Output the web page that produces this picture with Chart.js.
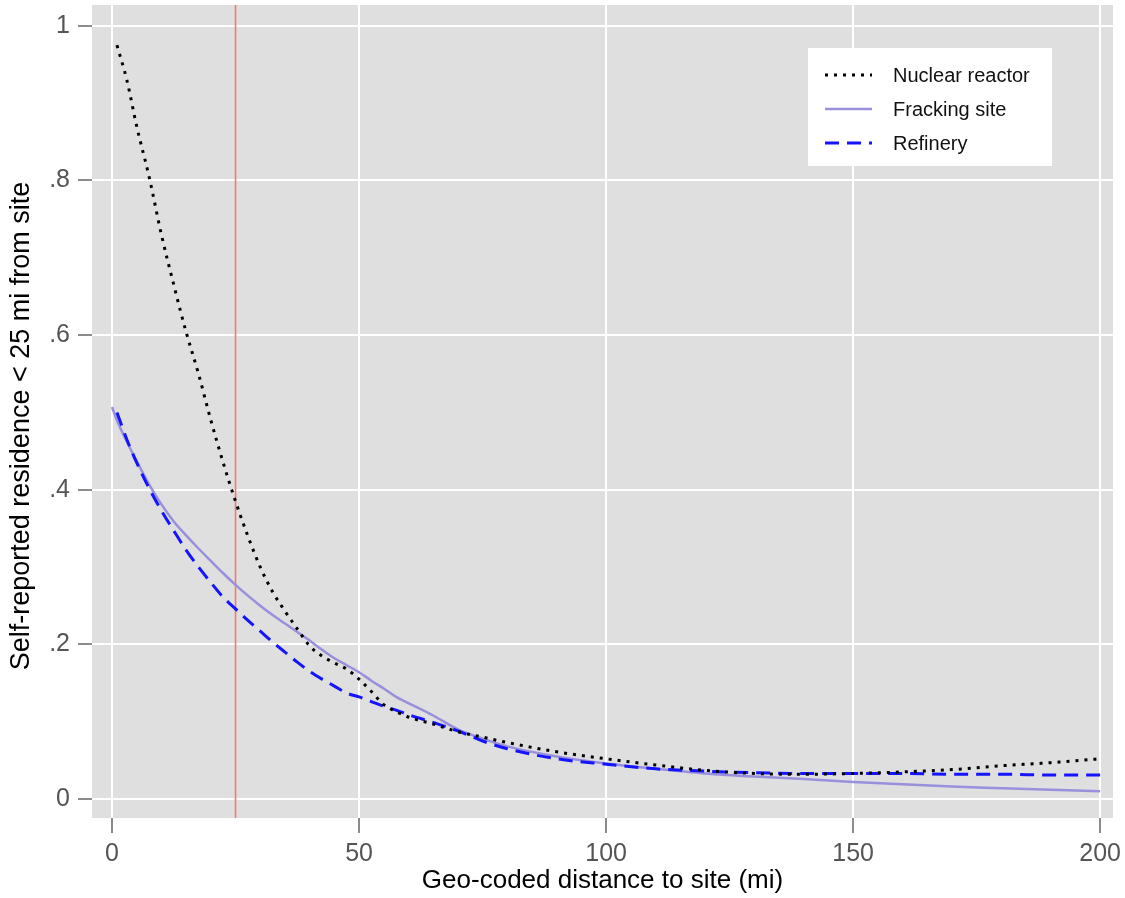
<!DOCTYPE html>
<html>
<head>
<meta charset="utf-8">
<script src="https://cdn.jsdelivr.net/npm/chart.js@4.4.1/dist/chart.umd.min.js"></script>
<style>
  html,body{margin:0;padding:0;background:#fff;}
  #wrap{width:1125px;height:898px;}
</style>
</head>
<body>
<div id="wrap"><canvas id="chart" width="1125" height="898"></canvas></div>
<script>
// distances (mi)
const distances = [0,1,3,5,7.5,10,12.5,15,17.5,20,22.5,25,27.5,30,32.5,35,37.5,40,42.5,45,47.5,50,52.5,55,57.5,60,65,70,75,80,90,100,110,120,130,140,150,160,170,180,190,200];

const nuclear = [null,0.975,0.93,0.87,0.805,0.73,0.665,0.604,0.55,0.49,0.435,0.385,0.34,0.3,0.268,0.243,0.22,0.198,0.185,0.176,0.168,0.155,0.139,0.122,0.113,0.106,0.097,0.087,0.08,0.073,0.061,0.052,0.044,0.037,0.033,0.032,0.033,0.035,0.038,0.043,0.047,0.052];
const fracking = [0.507,0.49,0.462,0.437,0.407,0.381,0.359,0.341,0.324,0.308,0.292,0.277,0.263,0.25,0.238,0.227,0.216,0.205,0.193,0.182,0.173,0.164,0.153,0.143,0.132,0.124,0.108,0.09,0.078,0.068,0.055,0.046,0.039,0.033,0.029,0.026,0.022,0.019,0.016,0.014,0.012,0.01];
const refinery = [null,0.5,0.465,0.435,0.402,0.373,0.347,0.322,0.3,0.28,0.261,0.246,0.231,0.217,0.203,0.19,0.177,0.165,0.155,0.146,0.137,0.132,0.126,0.12,0.115,0.109,0.099,0.088,0.075,0.065,0.052,0.045,0.039,0.036,0.034,0.033,0.033,0.033,0.032,0.032,0.031,0.031];

const seriesNames = ['Nuclear reactor','Fracking site','Refinery'];
const xTicks = [0,50,100,150,200];
const yTicks = [0,0.2,0.4,0.6,0.8,1];
const cutoff = 25;
const yTitle = 'Self-reported residence < 25 mi from site';

const pts = arr => distances.map((d,i)=>({x:d, y:arr[i]})).filter(p=>p.y!==null);

const FAM = '"Liberation Sans", Arial, sans-serif';
const tickFont = {family:FAM, size:25};

const bgPlugin = {
  id:'bg',
  beforeDraw(chart){
    const {ctx, chartArea:a} = chart;
    ctx.save();
    ctx.fillStyle = '#dfdfdf';
    ctx.fillRect(a.left, a.top, a.right-a.left, a.bottom-a.top);
    ctx.restore();
  },
  beforeDatasetsDraw(chart){
    const {ctx, chartArea:a, scales} = chart;
    const x = scales.x.getPixelForValue(cutoff);
    ctx.save();
    ctx.strokeStyle = '#f07a70';
    ctx.lineWidth = 1.6;
    ctx.beginPath();
    ctx.moveTo(x, a.top); ctx.lineTo(x, a.bottom);
    ctx.stroke();
    ctx.restore();
  },
  afterDraw(chart){
    const ctx = chart.ctx;
    // y axis title
    ctx.save();
    ctx.translate(22, 426);
    ctx.rotate(-Math.PI/2);
    ctx.font = '27px ' + FAM;
    ctx.fillStyle = '#000';
    ctx.textAlign = 'center';
    ctx.textBaseline = 'middle';
    ctx.fillText(yTitle, 0, 0);
    ctx.restore();
    // legend box inside plot
    const bx = 808, by = 48, bw = 244, bh = 118;
    ctx.save();
    ctx.fillStyle = '#fff';
    ctx.fillRect(bx, by, bw, bh);
    ctx.font = '20px ' + FAM;
    ctx.textBaseline = 'middle';
    chart.data.datasets.forEach((ds,i)=>{
      const y = by + 27 + i*34;
      ctx.strokeStyle = ds.borderColor;
      ctx.lineWidth = ds.borderWidth;
      ctx.setLineDash(ds.borderDash || []);
      ctx.beginPath();
      ctx.moveTo(bx+17, y); ctx.lineTo(bx+64, y);
      ctx.stroke();
      ctx.setLineDash([]);
      ctx.fillStyle = '#111';
      ctx.fillText(ds.label, bx+85, y+1);
    });
    ctx.restore();
  }
};

new Chart(document.getElementById('chart'), {
  type:'line',
  data:{
    datasets:[
      { label:seriesNames[0], data:pts(nuclear), borderColor:'#000', borderWidth:3, borderDash:[3,6], pointRadius:0, cubicInterpolationMode:'monotone', order:1 },
      { label:seriesNames[1], data:pts(fracking), borderColor:'#9890dc', borderWidth:2.5, pointRadius:0, cubicInterpolationMode:'monotone', order:3 },
      { label:seriesNames[2], data:pts(refinery), borderColor:'#1414ff', borderWidth:3, borderDash:[14,8], pointRadius:0, cubicInterpolationMode:'monotone', order:2 }
    ]
  },
  options:{
    responsive:false,
    animation:false,
    layout:{ padding:{ top:5, right:12, left:0, bottom:0 } },
    plugins:{ legend:{display:false}, tooltip:{enabled:false} },
    scales:{
      x:{
        type:'linear', min:-4.05, max:202.6,
        afterBuildTicks: s => { s.ticks = xTicks.map(v=>({value:v})); },
        afterFit: s => { s.height = 80; s.paddingLeft = 0; s.paddingRight = 0; },
        grid:{ color:'#ffffff', lineWidth:2, drawTicks:true, tickLength:15, tickColor:'#666', tickWidth:1.5 },
        border:{ display:false },
        ticks:{ color:'#555', font:tickFont, padding:6, maxRotation:0 },
        title:{ display:true, text:'Geo-coded distance to site (mi)', color:'#000', font:{family:FAM, size:26}, padding:{top:0,bottom:2} }
      },
      y:{
        type:'linear', min:-0.0246, max:1.027,
        afterBuildTicks: s => { s.ticks = yTicks.map(v=>({value:v})); },
        afterFit: s => { s.width = 92; s.paddingTop = 0; s.paddingBottom = 0; },
        grid:{ color:'#ffffff', lineWidth:2, drawTicks:true, tickLength:14, tickColor:'#666', tickWidth:1.5 },
        border:{ display:false },
        ticks:{ color:'#555', font:tickFont, padding:8,
          callback: v => v===0 ? '0' : v===1 ? '1' : String(+v.toFixed(1)).replace(/^0/,'') },
        title:{ display:false }
      }
    }
  },
  plugins:[bgPlugin]
});
</script>
</body>
</html>
